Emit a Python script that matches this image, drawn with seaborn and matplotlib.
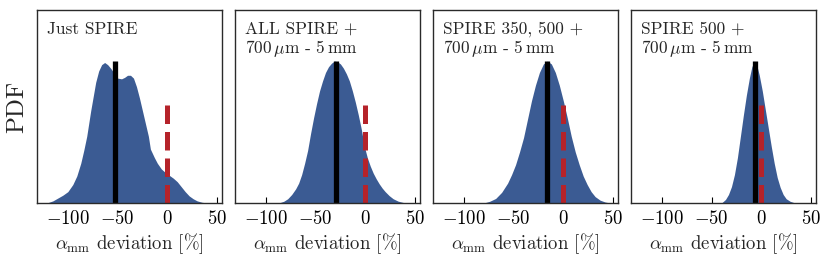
import numpy as np
import pandas as pd
import seaborn as sns
import matplotlib
matplotlib.use("Agg")
import matplotlib.pyplot as plt

# ---- data ----
titles = ["Just SPIRE",
          "ALL SPIRE +\n700$\\,\\mu$m - 5$\\,$mm",
          "SPIRE 350, 500 +\n700$\\,\\mu$m - 5$\\,$mm",
          "SPIRE 500 +\n700$\\,\\mu$m - 5$\\,$mm"]

x1 = [-121, -115, -110, -105, -100, -95, -91, -87, -84, -81, -79, -77, -75, -72, -69, -66, -63, -60,
      -57, -54, -50, -46, -43, -40, -37, -34, -31, -28, -25, -22, -19, -17, -13, -10, -6, -2, 2, 6,
      10, 14, 18, 22, 26, 30, 35, 40]
y1 = [0, 0.015, 0.035, 0.055, 0.08, 0.13, 0.19, 0.28, 0.37, 0.47, 0.56, 0.65, 0.73, 0.85, 0.93, 0.975,
      0.99, 0.975, 0.95, 0.92, 0.88, 0.875, 0.885, 0.90, 0.90, 0.88, 0.82, 0.74, 0.65, 0.56, 0.47, 0.38,
      0.32, 0.28, 0.24, 0.215, 0.195, 0.175, 0.15, 0.115, 0.08, 0.05, 0.03, 0.015, 0.005, 0]

x2 = [-87, -82, -78, -74, -70, -67, -64, -61, -58, -55, -52, -49, -46, -43, -40, -37, -34, -31, -28,
      -25, -22, -19, -16, -13, -10, -7, -4, -1, 2, 5, 8, 11, 14, 17, 20, 24, 28, 33, 38, 44]
y2 = [0, 0.012, 0.03, 0.06, 0.1, 0.14, 0.2, 0.28, 0.37, 0.49, 0.6, 0.7, 0.79, 0.86, 0.92, 0.96, 0.985,
      1.0, 0.995, 0.98, 0.95, 0.91, 0.86, 0.79, 0.71, 0.62, 0.52, 0.40, 0.32, 0.26, 0.21, 0.17, 0.135,
      0.105, 0.08, 0.052, 0.03, 0.013, 0.004, 0]

x3 = [-80, -74, -68, -62, -56, -52, -48, -44, -40, -36, -32, -28, -24, -20, -16, -12, -8, -4, 0, 4, 8,
      12, 16, 20, 24, 28, 32, 37, 42, 47]
y3 = [0, 0.012, 0.032, 0.075, 0.14, 0.2, 0.27, 0.36, 0.46, 0.59, 0.72, 0.83, 0.92, 0.98, 1.0, 0.98,
      0.92, 0.83, 0.72, 0.6, 0.47, 0.36, 0.27, 0.19, 0.13, 0.08, 0.045, 0.02, 0.007, 0]

x4 = [-40, -36, -33, -30, -27, -24, -21, -18, -15, -12, -9.5, -7, -4.5, -2, 1, 4, 7, 10, 13, 16, 19,
      22, 25, 29, 34]
y4 = [0, 0.025, 0.06, 0.115, 0.2, 0.32, 0.47, 0.62, 0.76, 0.88, 0.96, 1.0, 0.97, 0.9, 0.79, 0.66, 0.53,
      0.4, 0.28, 0.18, 0.11, 0.06, 0.03, 0.012, 0]

medians = [-52.7, -29, -16, -6.7]
reference = [0, 0, 0, 0]
xticks = [-100, -50, 0, 50]

curves = [(x1, y1), (x2, y2), (x3, y3), (x4, y4)]

# ---- style ----
sns.set_style("ticks")
plt.rcParams["font.family"] = ["serif"]
plt.rcParams["font.serif"] = ["cmr10", "DejaVu Serif"]
plt.rcParams["mathtext.fontset"] = "cm"
plt.rcParams["axes.formatter.use_mathtext"] = True
plt.rcParams["axes.unicode_minus"] = True

BLUE = "#3b5b93"
RED = "#b5232a"
SPINE = "#2a2a2a"

fig, axes = plt.subplots(1, 4, figsize=(8.31, 2.62), dpi=100)
fig.subplots_adjust(left=37 / 831, right=816 / 831, bottom=59 / 262, top=252 / 262, wspace=13 / 185)

for i, ax in enumerate(axes):
    xs, ys = curves[i]
    df = pd.DataFrame({"x": xs, "y": ys})
    sns.lineplot(data=df, x="x", y="y", ax=ax, color=BLUE, lw=0, sort=False)
    ax.fill_between(df["x"], 0, df["y"], color=BLUE, lw=0)
    ax.plot([medians[i], medians[i]], [0, 1.0], color="black", lw=3.8, solid_capstyle="butt")
    ax.plot([reference[i], reference[i]], [0, 0.75], color=RED, lw=3.6, ls="--",
            dash_capstyle="butt")
    ax.set_xlim(-131, 55)
    ax.set_ylim(0, 1.36)
    ax.set_xticks(xticks)
    ax.set_yticks([])
    ax.tick_params(axis="x", direction="in", length=4, width=0.8, labelsize=13.5, pad=5,
                   top=False, colors="black")
    for s in ax.spines.values():
        s.set_color(SPINE)
        s.set_linewidth(1.0)
    ax.set_xlabel(r"$\alpha_{\rm mm}$ deviation [%]", fontsize=13.5, labelpad=2)
    ax.set_ylabel("PDF" if i == 0 else "", fontsize=18, labelpad=6)
    ax.text(0.055, 0.94, titles[i], transform=ax.transAxes, ha="left", va="top",
            fontsize=12.5, linespacing=1.05)

fig.savefig("out.png", dpi=100)
